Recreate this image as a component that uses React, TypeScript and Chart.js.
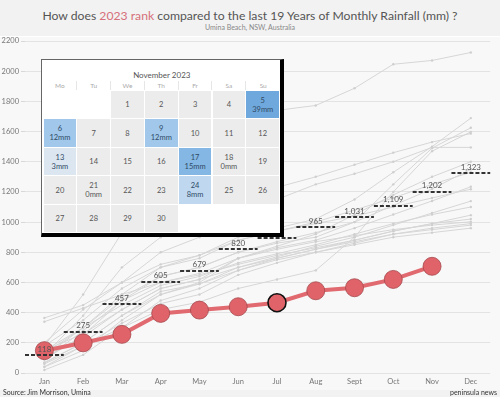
import React, { useEffect, useRef } from 'react';
import { Chart, registerables } from 'chart.js';

Chart.register(...registerables);

const FONT = 'Lato, "Open Sans", sans-serif';

// ---------- data ----------
const months = ['Jan', 'Feb', 'Mar', 'Apr', 'May', 'Jun', 'Jul', 'Aug', 'Sept', 'Oct', 'Nov', 'Dec'];
const yTicks = [0, 200, 400, 600, 800, 1000, 1200, 1400, 1600, 1800, 2000, 2200];

// average cumulative rainfall (dashed markers)
const avgValues = [118, 275, 457, 605, 679, 820, 896, 965, 1031, 1109, 1202, 1323];

// 2023 cumulative rainfall
const rain2023 = [148, 200, 256, 395, 417, 439, 466, 545, 565, 620, 707, null];

// previous 19 years cumulative rainfall
const y2004 = [180, 520, 930, 1300, 1480, 1640, 1740, 1773, 1887, 2046, 2071, 2124];
const y2005 = [150, 300, 520, 700, 780, 900, 960, 1020, 1150, 1330, 1500, 1689];
const y2006 = [90, 250, 480, 640, 700, 800, 860, 900, 1000, 1250, 1490, 1625];
const y2007 = [60, 180, 300, 420, 470, 560, 620, 680, 900, 1200, 1470, 1598];
const y2008 = [120, 380, 700, 900, 1000, 1150, 1230, 1300, 1380, 1460, 1530, 1587];
const y2009 = [200, 420, 600, 800, 900, 1050, 1150, 1250, 1320, 1400, 1495, 1495];
const y2010 = [100, 240, 420, 560, 620, 760, 840, 920, 1050, 1180, 1300, 1400];
const y2011 = [180, 350, 560, 700, 760, 880, 940, 1000, 1080, 1160, 1250, 1330];
const y2012 = [40, 150, 350, 520, 600, 760, 830, 880, 960, 1050, 1140, 1234];
const y2013 = [365, 450, 600, 720, 780, 880, 940, 990, 1040, 1100, 1160, 1218];
const y2014 = [70, 200, 380, 520, 590, 700, 770, 840, 900, 980, 1060, 1139];
const y2015 = [130, 300, 450, 580, 640, 730, 790, 850, 920, 990, 1050, 1100];
const y2016 = [20, 120, 300, 480, 560, 680, 760, 820, 880, 940, 990, 1046];
const y2017 = [340, 430, 520, 600, 650, 720, 780, 830, 880, 940, 990, 1020];
const y2018 = [90, 280, 480, 600, 660, 760, 820, 870, 910, 950, 980, 1002];
const y2019 = [42, 180, 330, 460, 520, 650, 730, 800, 860, 920, 960, 990];
const y2020 = [150, 260, 420, 560, 620, 700, 760, 820, 870, 920, 950, 980];
const y2021 = [66, 200, 380, 540, 590, 680, 750, 800, 850, 900, 930, 960];
const y2022 = [110, 300, 500, 640, 700, 800, 870, 930, 1000, 1110, 1220, 1350];

const pastYears = [y2004, y2005, y2006, y2007, y2008, y2009, y2010, y2011, y2012, y2013,
  y2014, y2015, y2016, y2017, y2018, y2019, y2020, y2021, y2022];

// calendar data
const calTitle = 'November 2023';
const weekdayLabels = ['Mo', 'Tu', 'We', 'Th', 'Fr', 'Sa', 'Su'];
const calDays = [1, 2, 3, 4, 5, 6, 7, 8, 9, 10, 11, 12, 13, 14, 15, 16, 17, 18, 19, 20,
  21, 22, 23, 24, 25, 26, 27, 28, 29, 30];
const firstWeekday = 2; // Wednesday
const rainDays = [5, 6, 9, 13, 17, 18, 21, 24];
const rainMm = [39, 12, 12, 3, 15, 0, 0, 8];

// ---------- helpers ----------
function rainColor(mm: number | undefined) {
  if (mm === undefined || mm <= 0) return '#ececec';
  if (mm >= 30) return '#6fa8dc';
  if (mm >= 14) return '#84b7e3';
  if (mm >= 10) return '#a1c8eb';
  if (mm >= 5) return '#bfd8f0';
  return '#dce6f1';
}

const avgPlugin = {
  id: 'avgLines',
  afterDatasetsDraw(chart: any) {
    const { ctx, scales } = chart;
    const x = scales.x;
    const y = scales.y;
    const half = (x.getPixelForValue(1) - x.getPixelForValue(0)) / 2;
    ctx.save();
    ctx.strokeStyle = '#333';
    ctx.lineWidth = 2;
    ctx.setLineDash([4, 2]);
    avgValues.forEach((v, i) => {
      const cx = x.getPixelForValue(i);
      const py = Math.round(y.getPixelForValue(v));
      ctx.beginPath();
      ctx.moveTo(cx - half, py);
      ctx.lineTo(cx + half, py);
      ctx.stroke();
    });
    ctx.setLineDash([]);
    ctx.fillStyle = '#555';
    ctx.font = `8px ${FONT}`;
    ctx.textAlign = 'center';
    ctx.textBaseline = 'middle';
    avgValues.forEach((v, i) => {
      const cx = x.getPixelForValue(i);
      const py = y.getPixelForValue(v);
      ctx.fillText(v.toLocaleString('en-US'), cx, py - 6);
    });
    ctx.restore();
  },
};

function Calendar() {
  const colW = 33.8;
  const rowH = 28.45;
  const cells: React.ReactNode[] = [];
  for (let idx = 0; idx < 35; idx++) {
    const row = Math.floor(idx / 7);
    const col = idx % 7;
    const dayIdx = idx - firstWeekday;
    const day = dayIdx >= 0 && dayIdx < calDays.length ? calDays[dayIdx] : null;
    const ri = day !== null ? rainDays.indexOf(day) : -1;
    const mm = ri >= 0 ? rainMm[ri] : undefined;
    const bg = day === null ? '#ffffff' : rainColor(mm);
    cells.push(
      <div
        key={idx}
        style={{
          position: 'absolute',
          left: 1.5 + col * colW,
          top: 31 + row * rowH,
          width: colW - 1,
          height: rowH - 1,
          background: bg,
          display: 'flex',
          flexDirection: 'column',
          alignItems: 'center',
          justifyContent: 'center',
          fontSize: 7.5,
          lineHeight: '9px',
          color: mm !== undefined && mm > 0 ? '#2f4a66' : '#555',
        }}
      >
        {day !== null && <div>{day}</div>}
        {mm !== undefined && <div>{mm}mm</div>}
      </div>
    );
  }
  return (
    <div
      style={{
        position: 'absolute',
        left: 41,
        top: 59,
        width: 243,
        height: 178,
        boxSizing: 'border-box',
        background: '#fff',
        borderLeft: '1px solid #666',
        borderTop: '1px solid #666',
        borderRight: '4px solid #000',
        borderBottom: '4px solid #000',
      }}
    >
      <div
        style={{
          position: 'absolute',
          left: 1.5,
          width: colW * 7,
          top: 10,
          textAlign: 'center',
          fontSize: 8,
          color: '#555',
          lineHeight: '10px',
        }}
      >
        {calTitle}
      </div>
      {weekdayLabels.map((w, i) => (
        <div
          key={w}
          style={{
            position: 'absolute',
            left: 1.5 + i * colW,
            width: colW,
            top: 21,
            height: 9,
            textAlign: 'center',
            fontSize: 6.5,
            lineHeight: '9px',
            color: '#aaa',
            borderRight: i < 6 ? '1px solid #e6e6e6' : 'none',
            boxSizing: 'border-box',
          }}
        >
          {w}
        </div>
      ))}
      {cells}
    </div>
  );
}

export default function App() {
  const canvasRef = useRef<HTMLCanvasElement | null>(null);

  useEffect(() => {
    if (!canvasRef.current) return;
    const grayDatasets = pastYears.map((d, i) => ({
      label: String(2004 + i),
      data: d,
      borderColor: '#d6d6d6',
      backgroundColor: '#d0d0d0',
      borderWidth: 1,
      pointRadius: 1.2,
      pointBorderWidth: 0,
      pointBackgroundColor: '#cfcfcf',
      tension: 0,
    }));
    const chart = new Chart(canvasRef.current, {
      type: 'line',
      data: {
        labels: months,
        datasets: [
          {
            label: '2023',
            data: rain2023,
            borderColor: '#e06a6f',
            borderWidth: 4,
            pointRadius: 9,
            pointBackgroundColor: '#e0636a',
            pointBorderColor: rain2023.map((_, i) => (i === 6 ? '#111' : '#a4474b')),
            pointBorderWidth: rain2023.map((_, i) => (i === 6 ? 1.6 : 0.8)),
            tension: 0,
          },
          ...grayDatasets,
        ],
      },
      options: {
        animation: false,
        responsive: false,
        maintainAspectRatio: false,
        layout: { padding: { left: 0, right: 4, top: 41, bottom: 10 } },
        plugins: {
          legend: { display: false },
          tooltip: { enabled: false },
          title: { display: false },
        },
        scales: {
          x: {
            offset: true,
            grid: { display: false, drawTicks: false },
            border: { display: false },
            ticks: { color: '#777', font: { size: 7.5, family: FONT }, padding: 4 },
            afterFit: (s: any) => {
              s.height = 14;
            },
          },
          y: {
            min: 0,
            max: 2200,
            grid: { color: '#e3e3e3', tickLength: 4, tickColor: '#d8d8d8' },
            border: { display: false },
            ticks: {
              color: '#777',
              font: { size: 7.5, family: FONT },
              padding: 2,
              callback: (v: any) => String(v),
            },
            afterBuildTicks: (s: any) => {
              s.ticks = yTicks.map((v) => ({ value: v }));
            },
            afterFit: (s: any) => {
              s.width = 25;
            },
          },
        },
      },
      plugins: [avgPlugin],
    });
    return () => chart.destroy();
  }, []);

  return (
    <div
      style={{
        position: 'absolute',
        left: 0,
        top: 0,
        width: 500,
        height: 397,
        background: '#f2f2f2',
        overflow: 'hidden',
        fontFamily: FONT,
      }}
    >
      <div
        style={{
          position: 'absolute',
          left: 0,
          top: 36,
          width: 500,
          height: 353,
          background: '#f8f8f8',
          borderTop: '1px solid #ffffff',
        }}
      />
      <div
        style={{
          position: 'absolute',
          left: 0,
          top: 8,
          width: 500,
          textAlign: 'center',
          fontSize: 12.2,
          lineHeight: '15px',
          color: '#555',
        }}
      >
        How does <span style={{ color: '#d6707a' }}>2023 rank</span> compared to the last 19 Years of Monthly Rainfall (mm) ?
      </div>
      <div
        style={{
          position: 'absolute',
          left: 0,
          top: 23,
          width: 500,
          textAlign: 'center',
          fontSize: 7,
          lineHeight: '9px',
          color: '#888',
        }}
      >
        Umina Beach, NSW, Australia
      </div>
      <canvas
        ref={canvasRef}
        width={500}
        height={397}
        style={{ position: 'absolute', left: 0, top: 0, width: 500, height: 397 }}
      />
      <Calendar />
      <div
        style={{
          position: 'absolute',
          left: 3,
          top: 388,
          fontSize: 7,
          lineHeight: '9px',
          color: '#333',
        }}
      >
        Source: Jim Morrison, Umina
      </div>
      <div
        style={{
          position: 'absolute',
          right: 3,
          top: 388,
          fontSize: 7,
          lineHeight: '9px',
          color: '#333',
        }}
      >
        peninsula news
      </div>
    </div>
  );
}
